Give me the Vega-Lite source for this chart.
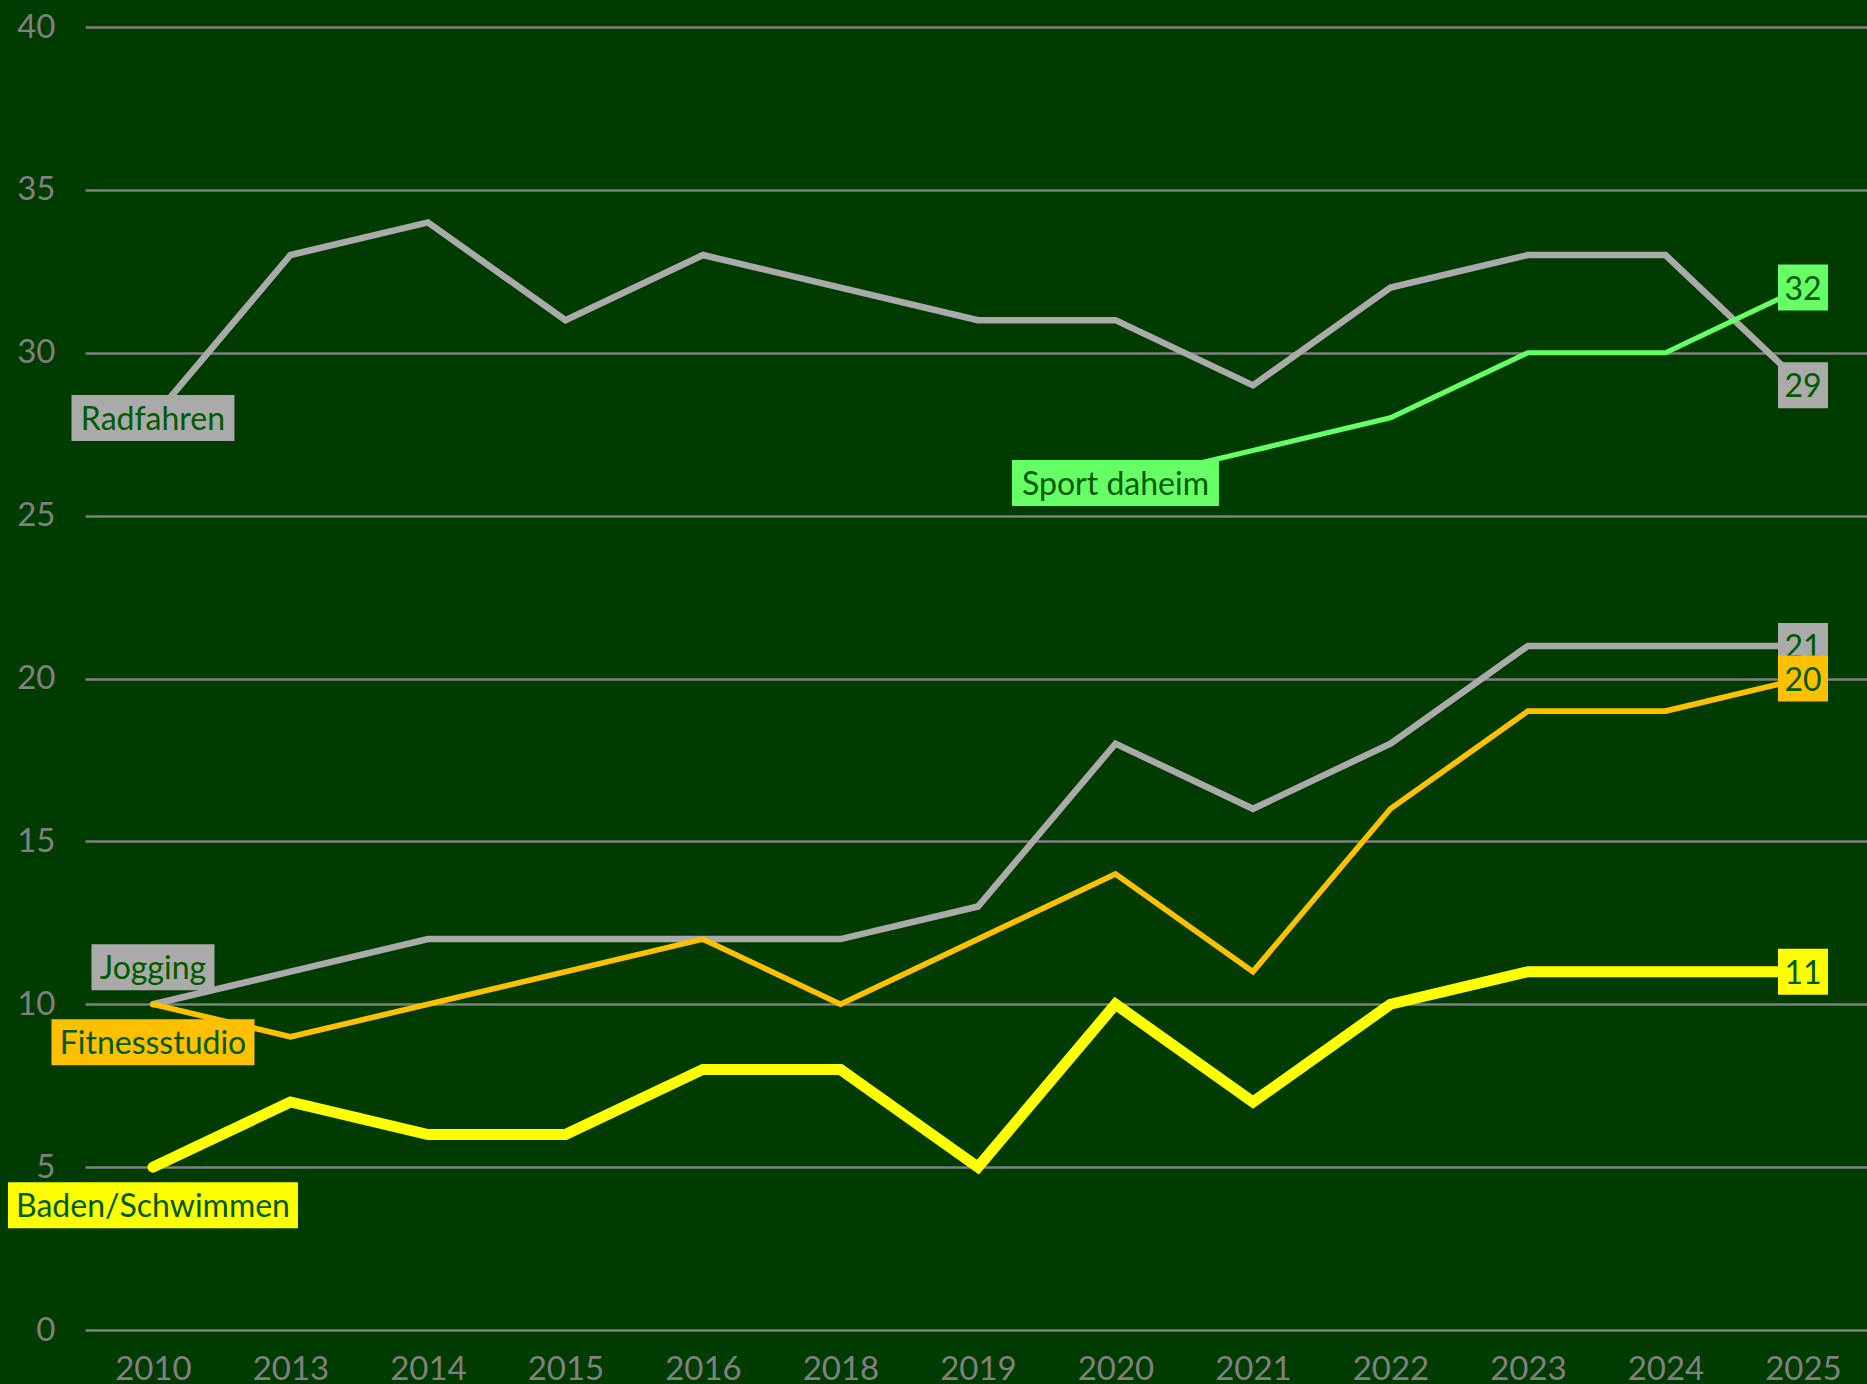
{
  "$schema": "https://vega.github.io/schema/vega-lite/v6.json",
  "width": 1782,
  "height": 1303,
  "autosize": {"type": "none"},
  "padding": {"left": 85, "top": 27, "right": 0, "bottom": 54},
  "background": "#003b00",
  "config": {"view": {"stroke": null}, "font": "Lato"},
  "data": {
    "values": [
      {"series": "Radfahren", "year": 2010, "value": 28},
      {"series": "Radfahren", "year": 2013, "value": 33},
      {"series": "Radfahren", "year": 2014, "value": 34},
      {"series": "Radfahren", "year": 2015, "value": 31},
      {"series": "Radfahren", "year": 2016, "value": 33},
      {"series": "Radfahren", "year": 2018, "value": 32},
      {"series": "Radfahren", "year": 2019, "value": 31},
      {"series": "Radfahren", "year": 2020, "value": 31},
      {"series": "Radfahren", "year": 2021, "value": 29},
      {"series": "Radfahren", "year": 2022, "value": 32},
      {"series": "Radfahren", "year": 2023, "value": 33},
      {"series": "Radfahren", "year": 2024, "value": 33},
      {"series": "Radfahren", "year": 2025, "value": 29},
      {"series": "Sport daheim", "year": 2020, "value": 26},
      {"series": "Sport daheim", "year": 2021, "value": 27},
      {"series": "Sport daheim", "year": 2022, "value": 28},
      {"series": "Sport daheim", "year": 2023, "value": 30},
      {"series": "Sport daheim", "year": 2024, "value": 30},
      {"series": "Sport daheim", "year": 2025, "value": 32},
      {"series": "Jogging", "year": 2010, "value": 10},
      {"series": "Jogging", "year": 2013, "value": 11},
      {"series": "Jogging", "year": 2014, "value": 12},
      {"series": "Jogging", "year": 2015, "value": 12},
      {"series": "Jogging", "year": 2016, "value": 12},
      {"series": "Jogging", "year": 2018, "value": 12},
      {"series": "Jogging", "year": 2019, "value": 13},
      {"series": "Jogging", "year": 2020, "value": 18},
      {"series": "Jogging", "year": 2021, "value": 16},
      {"series": "Jogging", "year": 2022, "value": 18},
      {"series": "Jogging", "year": 2023, "value": 21},
      {"series": "Jogging", "year": 2024, "value": 21},
      {"series": "Jogging", "year": 2025, "value": 21},
      {"series": "Baden/Schwimmen", "year": 2010, "value": 5},
      {"series": "Baden/Schwimmen", "year": 2013, "value": 7},
      {"series": "Baden/Schwimmen", "year": 2014, "value": 6},
      {"series": "Baden/Schwimmen", "year": 2015, "value": 6},
      {"series": "Baden/Schwimmen", "year": 2016, "value": 8},
      {"series": "Baden/Schwimmen", "year": 2018, "value": 8},
      {"series": "Baden/Schwimmen", "year": 2019, "value": 5},
      {"series": "Baden/Schwimmen", "year": 2020, "value": 10},
      {"series": "Baden/Schwimmen", "year": 2021, "value": 7},
      {"series": "Baden/Schwimmen", "year": 2022, "value": 10},
      {"series": "Baden/Schwimmen", "year": 2023, "value": 11},
      {"series": "Baden/Schwimmen", "year": 2024, "value": 11},
      {"series": "Baden/Schwimmen", "year": 2025, "value": 11},
      {"series": "Fitnessstudio", "year": 2010, "value": 10},
      {"series": "Fitnessstudio", "year": 2013, "value": 9},
      {"series": "Fitnessstudio", "year": 2014, "value": 10},
      {"series": "Fitnessstudio", "year": 2015, "value": 11},
      {"series": "Fitnessstudio", "year": 2016, "value": 12},
      {"series": "Fitnessstudio", "year": 2018, "value": 10},
      {"series": "Fitnessstudio", "year": 2019, "value": 12},
      {"series": "Fitnessstudio", "year": 2020, "value": 14},
      {"series": "Fitnessstudio", "year": 2021, "value": 11},
      {"series": "Fitnessstudio", "year": 2022, "value": 16},
      {"series": "Fitnessstudio", "year": 2023, "value": 19},
      {"series": "Fitnessstudio", "year": 2024, "value": 19},
      {"series": "Fitnessstudio", "year": 2025, "value": 20}
    ]
  },
  "transform": [
    {"joinaggregate": [{"op": "min", "field": "year", "as": "firstYear"}], "groupby": ["series"]}
  ],
  "encoding": {
    "x": {
      "field": "year", "type": "ordinal",
      "scale": {"type": "point", "padding": 0.48, "align": 0.515},
      "axis": {"title": null, "labelColor": "#808080", "labelFontSize": 33, "labelAngle": 0,
        "ticks": false, "tickSize": 0, "domain": false, "grid": false,
        "labelPadding": 49, "labelBaseline": "alphabetic"}
    },
    "y": {
      "field": "value", "type": "quantitative",
      "scale": {"domain": [0, 40]},
      "axis": {"title": null, "values": [0, 5, 10, 15, 20, 25, 30, 35, 40],
        "labelColor": "#808080", "labelFontSize": 33, "ticks": false, "tickSize": 0,
        "domain": false, "gridColor": "#808080", "gridWidth": 2.3, "labelPadding": 30}
    },
    "color": {
      "field": "series", "type": "nominal", "legend": null,
      "scale": {
        "domain": ["Radfahren", "Jogging", "Sport daheim", "Fitnessstudio", "Baden/Schwimmen"],
        "range": ["#aaaaaa", "#aaaaaa", "#66ff66", "#ffc000", "#ffff00"]
      }
    }
  },
  "layer": [
    {"transform": [{"filter": "datum.series == 'Radfahren'"}],
     "mark": {"type": "line", "strokeWidth": 6.5, "strokeCap": "round"}},
    {"transform": [{"filter": "datum.series == 'Jogging'"}],
     "mark": {"type": "line", "strokeWidth": 6.5, "strokeCap": "round"}},
    {"transform": [{"filter": "datum.series == 'Sport daheim'"}],
     "mark": {"type": "line", "strokeWidth": 5.2, "strokeCap": "round"}},
    {"transform": [{"filter": "datum.series == 'Fitnessstudio'"}],
     "mark": {"type": "line", "strokeWidth": 5.6, "strokeCap": "round"}},
    {"transform": [{"filter": "datum.series == 'Baden/Schwimmen'"}],
     "mark": {"type": "line", "strokeWidth": 11, "strokeCap": "round"}},

    {"transform": [{"filter": "datum.year == datum.firstYear && (datum.series == 'Radfahren' || datum.series == 'Sport daheim')"}],
     "mark": {"type": "point", "filled": true, "opacity": 1, "size": 160000, "strokeWidth": 0},
     "encoding": {"shape": {"field": "series", "type": "nominal", "legend": null,
       "scale": {"domain": ["Radfahren", "Jogging", "Sport daheim", "Fitnessstudio", "Baden/Schwimmen"],
         "range": ["M-0.4075,-0.115H0.4075V0.115H-0.4075Z", "M-0.3075,-0.115H0.3075V0.115H-0.3075Z", "M-0.5175,-0.115H0.5175V0.115H-0.5175Z", "M-0.5075,-0.115H0.5075V0.115H-0.5075Z", "M-0.725,-0.115H0.725V0.115H-0.725Z"]}}}},
    {"transform": [{"filter": "datum.year == datum.firstYear && (datum.series == 'Radfahren' || datum.series == 'Sport daheim')"}],
     "mark": {"type": "text", "fontSize": 32, "baseline": "middle", "align": "center", "dy": 2},
     "encoding": {"text": {"field": "series"}, "color": {"value": "#005a00"}}},

    {"transform": [{"filter": "datum.year == datum.firstYear && datum.series == 'Jogging'"}],
     "mark": {"type": "point", "filled": true, "opacity": 1, "size": 160000, "strokeWidth": 0, "yOffset": -37},
     "encoding": {"shape": {"field": "series", "type": "nominal", "legend": null,
       "scale": {"domain": ["Radfahren", "Jogging", "Sport daheim", "Fitnessstudio", "Baden/Schwimmen"],
         "range": ["M-0.4075,-0.115H0.4075V0.115H-0.4075Z", "M-0.3075,-0.115H0.3075V0.115H-0.3075Z", "M-0.5175,-0.115H0.5175V0.115H-0.5175Z", "M-0.5075,-0.115H0.5075V0.115H-0.5075Z", "M-0.725,-0.115H0.725V0.115H-0.725Z"]}}}},
    {"transform": [{"filter": "datum.year == datum.firstYear && datum.series == 'Jogging'"}],
     "mark": {"type": "text", "fontSize": 32, "baseline": "middle", "align": "center", "dy": 2, "yOffset": -37},
     "encoding": {"text": {"field": "series"}, "color": {"value": "#005a00"}}},

    {"transform": [{"filter": "datum.year == datum.firstYear && (datum.series == 'Fitnessstudio' || datum.series == 'Baden/Schwimmen')"}],
     "mark": {"type": "point", "filled": true, "opacity": 1, "size": 160000, "strokeWidth": 0, "yOffset": 38},
     "encoding": {"shape": {"field": "series", "type": "nominal", "legend": null,
       "scale": {"domain": ["Radfahren", "Jogging", "Sport daheim", "Fitnessstudio", "Baden/Schwimmen"],
         "range": ["M-0.4075,-0.115H0.4075V0.115H-0.4075Z", "M-0.3075,-0.115H0.3075V0.115H-0.3075Z", "M-0.5175,-0.115H0.5175V0.115H-0.5175Z", "M-0.5075,-0.115H0.5075V0.115H-0.5075Z", "M-0.725,-0.115H0.725V0.115H-0.725Z"]}}}},
    {"transform": [{"filter": "datum.year == datum.firstYear && (datum.series == 'Fitnessstudio' || datum.series == 'Baden/Schwimmen')"}],
     "mark": {"type": "text", "fontSize": 32, "baseline": "middle", "align": "center", "dy": 2, "yOffset": 38},
     "encoding": {"text": {"field": "series"}, "color": {"value": "#005a00"}}},

    {"transform": [{"filter": "datum.year == 2025 && datum.series != 'Fitnessstudio'"}],
     "mark": {"type": "point", "filled": true, "opacity": 1, "size": 160000, "strokeWidth": 0,
       "shape": "M-0.125,-0.115H0.125V0.115H-0.125Z"}},
    {"transform": [{"filter": "datum.year == 2025 && datum.series != 'Fitnessstudio'"}],
     "mark": {"type": "text", "fontSize": 32, "baseline": "middle", "align": "center", "dy": 2},
     "encoding": {"text": {"field": "value", "type": "quantitative"}, "color": {"value": "#005a00"}}},
    {"transform": [{"filter": "datum.year == 2025 && datum.series == 'Fitnessstudio'"}],
     "mark": {"type": "point", "filled": true, "opacity": 1, "size": 160000, "strokeWidth": 0,
       "shape": "M-0.125,-0.115H0.125V0.115H-0.125Z"}},
    {"transform": [{"filter": "datum.year == 2025 && datum.series == 'Fitnessstudio'"}],
     "mark": {"type": "text", "fontSize": 32, "baseline": "middle", "align": "center", "dy": 2},
     "encoding": {"text": {"field": "value", "type": "quantitative"}, "color": {"value": "#005a00"}}}
  ]
}
